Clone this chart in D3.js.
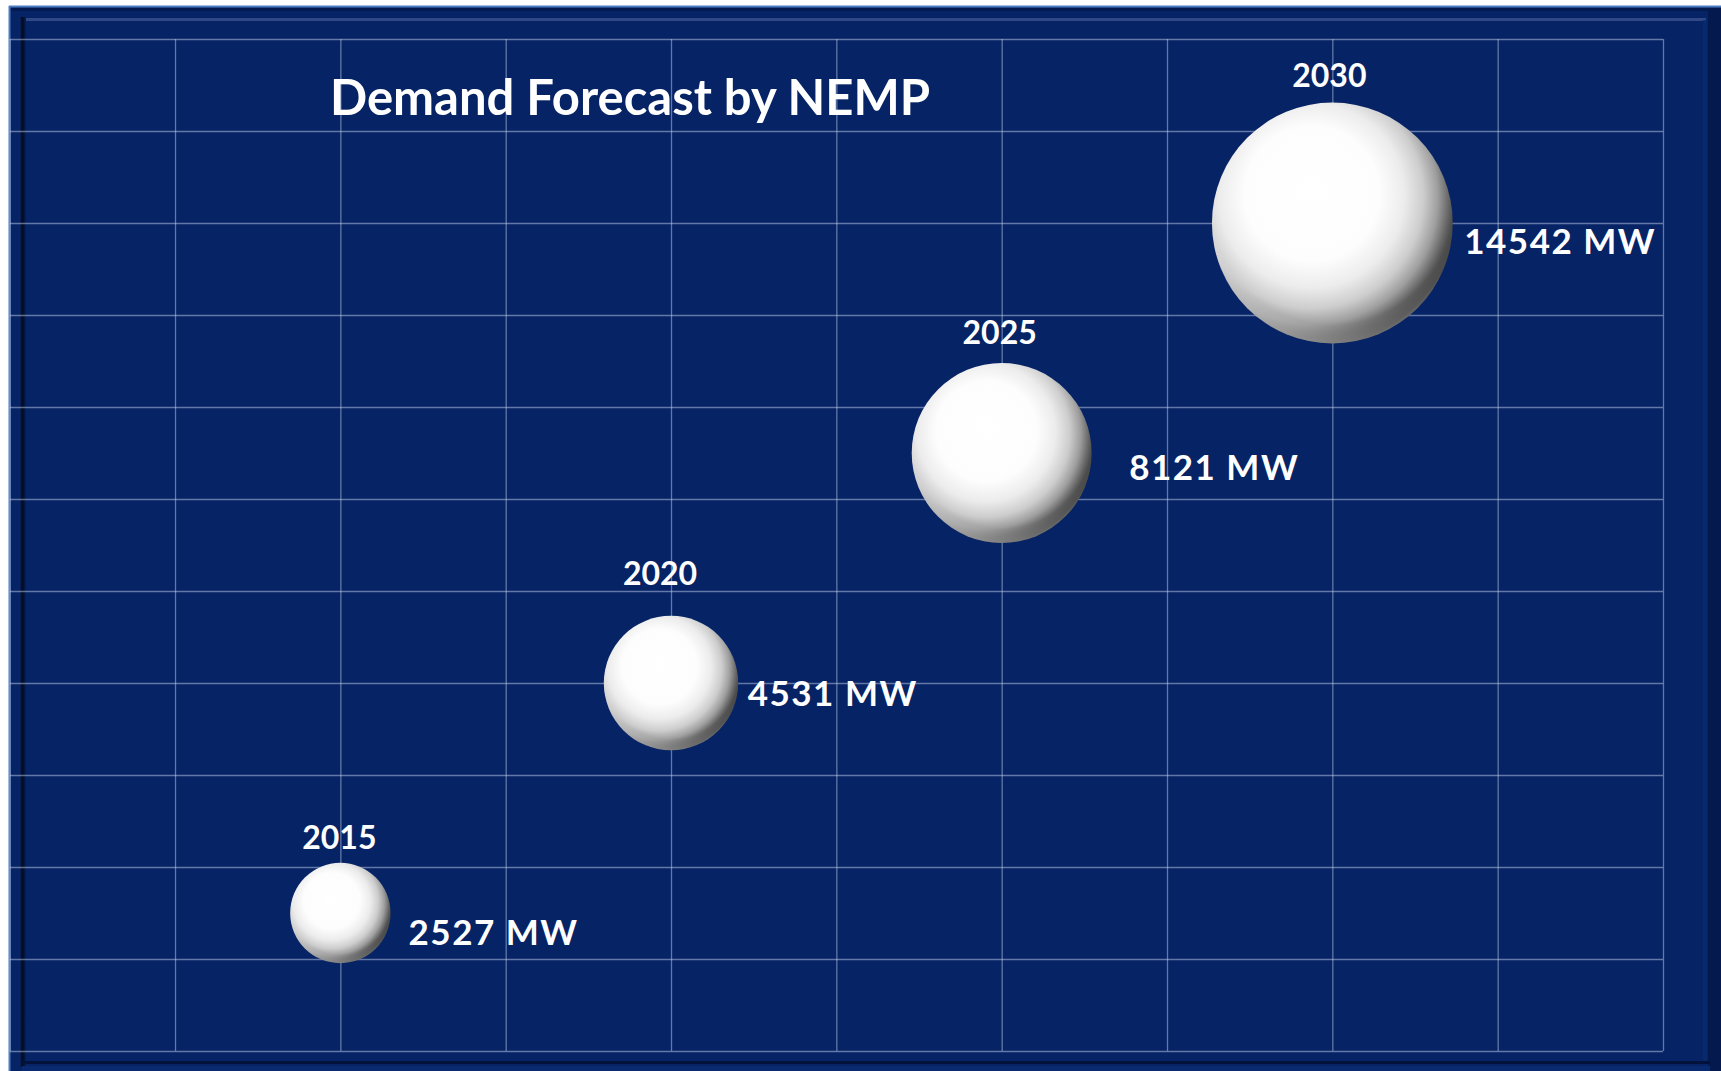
<!DOCTYPE html>
<html>
<head>
<meta charset="utf-8">
<script src="https://cdn.jsdelivr.net/npm/d3@7"></script>
<style>
  html, body { margin: 0; padding: 0; background: #ffffff; }
  svg { display: block; }
  text { font-family: Lato, "Open Sans", sans-serif; font-weight: 700; fill: #ffffff; }
</style>
</head>
<body>
<div id="chart"></div>
<script>
// ---------- data ----------
const years      = [2015, 2020, 2025, 2030];
const levels     = [1.5, 4, 6.5, 9];          // vertical placement of each bubble
const demandMW   = [2527, 4531, 8121, 14542]; // bubble size (MW)
const valueLabels = ["2527 MW", "4531 MW", "8121 MW", "14542 MW"];
const xTicks = [2010, 2012.5, 2015, 2017.5, 2020, 2022.5, 2025, 2027.5, 2030, 2032.5, 2035];
const yTicks = [0, 1, 2, 3, 4, 5, 6, 7, 8, 9, 10, 11];
const titleText = "Demand Forecast by NEMP";

// ---------- layout (not data) ----------
const W = 1721, H = 1071;
const plot = { left: 9.7, right: 1663, top: 39, bottom: 1051 };
const yearShift  = [[-1, 2], [-11, -15], [-2, -3], [-3, 0]];
const valueShift = [[4, 4], [-4.5, -4.6], [23.5, -1.3], [-2.5, 2.7]];

const svg = d3.select("#chart").append("svg")
  .attr("width", W).attr("height", H);

const defs = svg.append("defs");
const sphere = defs.append("radialGradient")
  .attr("id", "sphere")
  .attr("cx", 0.41).attr("cy", 0.4).attr("r", 0.62)
  .attr("fx", 0.42).attr("fy", 0.36);
[[0, "#ffffff"], [0.45, "#fdfdfd"], [0.62, "#ececec"], [0.75, "#cdcdcd"],
 [0.85, "#9e9e9e"], [0.93, "#626262"], [1, "#333333"]]
  .forEach(([o, c]) => sphere.append("stop").attr("offset", o).attr("stop-color", c));

const rim = defs.append("radialGradient")
  .attr("id", "rim").attr("cx", 0.5).attr("cy", 0.42).attr("r", 0.6);
[[0, "rgba(255,255,255,0)"], [0.84, "rgba(255,255,255,0)"], [0.97, "rgba(255,255,255,0.35)"], [1, "rgba(255,255,255,0.1)"]]
  .forEach(([o, c]) => rim.append("stop").attr("offset", o).attr("stop-color", c));

const shadowL = defs.append("linearGradient").attr("id", "shadowL")
  .attr("x1", 0).attr("x2", 1).attr("y1", 0).attr("y2", 0);
shadowL.append("stop").attr("offset", 0).attr("stop-color", "#0a2a6e");
shadowL.append("stop").attr("offset", 0.5).attr("stop-color", "#010a22");
shadowL.append("stop").attr("offset", 1).attr("stop-color", "#06205c");

// ---------- frame ----------
svg.append("rect").attr("x", 9).attr("y", 6).attr("width", W - 9).attr("height", H - 6)
  .attr("fill", "#062365");
svg.append("line").attr("x1", 9).attr("x2", W).attr("y1", 6.5).attr("y2", 6.5)
  .attr("stroke", "#4c7cc0").attr("stroke-width", 2);
svg.append("line").attr("x1", 9.5).attr("x2", 9.5).attr("y1", 6).attr("y2", H)
  .attr("stroke", "#4c7cc0").attr("stroke-width", 2);
svg.append("rect").attr("x", 11).attr("y", 8).attr("width", W - 22).attr("height", 3).attr("fill", "#041b52");
svg.append("rect").attr("x", 24).attr("y", 18).attr("width", 1682).attr("height", 3).attr("fill", "#3f5690").attr("opacity", 0.75);
svg.append("rect").attr("x", 19).attr("y", 17).attr("width", 7).attr("height", 1050).attr("fill", "url(#shadowL)");
svg.append("rect").attr("x", 1708).attr("y", 8).attr("width", 13).attr("height", H - 8).attr("fill", "#041a4e");
svg.append("rect").attr("x", 1703).attr("y", 20).attr("width", 4).attr("height", 1042).attr("fill", "#082a70").attr("opacity", 0.8);
svg.append("rect").attr("x", 22).attr("y", 1061).attr("width", 1688).attr("height", 3).attr("fill", "#02123a");
svg.append("rect").attr("x", 22).attr("y", 1066).attr("width", 1688).attr("height", 5).attr("fill", "#0a2a70");

// ---------- scales ----------
const x = d3.scaleLinear().domain([2010, 2035]).range([plot.left, plot.right]);
const y = d3.scaleLinear().domain([0, 11]).range([plot.bottom, plot.top]);
const r = d3.scaleSqrt().domain([0, 14542]).range([0, 120.4]);

// ---------- gridlines via axes ----------
const gridColor = "rgba(190,205,235,0.5)";
const gx = svg.append("g").attr("transform", `translate(0,${plot.bottom})`)
  .call(d3.axisBottom(x).tickValues(xTicks).tickSize(-(plot.bottom - plot.top)).tickFormat(""));
const gy = svg.append("g").attr("transform", `translate(${plot.left},0)`)
  .call(d3.axisLeft(y).tickValues(yTicks).tickSize(-(plot.right - plot.left)).tickFormat(""));
[gx, gy].forEach(g => {
  g.select(".domain").remove();
  g.selectAll(".tick line").attr("stroke", gridColor).attr("stroke-width", 1.3);
});

// ---------- title ----------
svg.append("text")
  .attr("x", 630).attr("y", 115)
  .attr("text-anchor", "middle")
  .attr("font-size", 49)
  .text(titleText);

// ---------- bubbles ----------
const rows = years.map((yr, i) => ({ yr, lvl: levels[i], v: demandMW[i], lab: valueLabels[i], i }));

const b = svg.append("g").selectAll("g").data(rows).join("g");
b.append("circle")
  .attr("cx", d => x(d.yr)).attr("cy", d => y(d.lvl)).attr("r", d => r(d.v))
  .attr("fill", "url(#sphere)");
b.append("circle")
  .attr("cx", d => x(d.yr)).attr("cy", d => y(d.lvl)).attr("r", d => r(d.v))
  .attr("fill", "url(#rim)");

b.append("text")
  .attr("x", d => x(d.yr) + yearShift[d.i][0])
  .attr("y", d => y(d.lvl) - r(d.v) - 16 + yearShift[d.i][1])
  .attr("text-anchor", "middle")
  .attr("font-size", 32)
  .text(d => d.yr);

b.append("text")
  .attr("x", d => x(d.yr) + r(d.v) + 14 + valueShift[d.i][0])
  .attr("y", d => y(d.lvl) + 28 + valueShift[d.i][1])
  .attr("font-size", 35)
  .attr("letter-spacing", 1.5)
  .text(d => d.lab);
</script>
</body>
</html>
